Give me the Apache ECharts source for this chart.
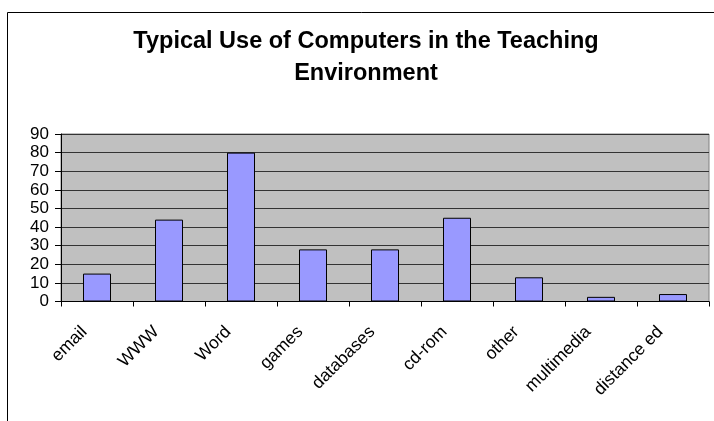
<!DOCTYPE html>
<html>
<head>
<meta charset="utf-8">
<script src="https://cdn.jsdelivr.net/npm/echarts@6/dist/echarts.min.js"></script>
<style>
  html, body { margin: 0; padding: 0; background: #fff; }
  #chart { width: 714px; height: 421px; }
</style>
</head>
<body>
<div id="chart"></div>
<script>
// Survey results: how computers are typically used in teaching
const categories = ['email', 'WWW', 'Word', 'games', 'databases', 'cd-rom', 'other', 'multimedia', 'distance ed'];
const usageValues = [15, 44, 80, 28, 28, 45, 13, 2.5, 4];
const yTicks = { min: 0, max: 90, interval: 10 };
const titleLines = ['Typical Use of Computers in the Teaching', 'Environment'];

const FONT = '"Liberation Sans", Arial, sans-serif';

const chart = echarts.init(document.getElementById('chart'), null, { renderer: 'canvas' });

chart.setOption({
  animation: false,
  backgroundColor: '#ffffff',
  graphic: [
    {
      type: 'rect',
      shape: { x: 7.5, y: 12.5, width: 730, height: 430 },
      style: { fill: 'none', stroke: '#000', lineWidth: 1 },
      silent: true
    },
    {
      type: 'text',
      style: {
        text: titleLines[0], x: 366, y: 41.5,
        align: 'center', verticalAlign: 'middle',
        font: 'bold 23.5px ' + FONT, fill: '#000'
      }
    },
    {
      type: 'text',
      style: {
        text: titleLines[1], x: 366, y: 73.5,
        align: 'center', verticalAlign: 'middle',
        font: 'bold 23.5px ' + FONT, fill: '#000'
      }
    }
  ],
  grid: {
    left: 61, right: 5, top: 134, bottom: 119.5,
    show: true,
    backgroundColor: '#C0C0C0',
    borderColor: '#808080',
    borderWidth: 1
  },
  xAxis: {
    type: 'category',
    data: categories,
    boundaryGap: true,
    axisLine: { lineStyle: { color: '#000', width: 1 } },
    axisTick: { show: true, interval: 0, length: 5, inside: false, lineStyle: { color: '#000' } },
    axisLabel: {
      interval: 0, rotate: 45, margin: 15,
      padding: [0, 18, 0, 0],
      fontSize: 17.5, fontFamily: FONT, color: '#000'
    },
    splitLine: { show: false }
  },
  yAxis: {
    type: 'value',
    min: yTicks.min, max: yTicks.max, interval: yTicks.interval,
    axisLine: { show: true, lineStyle: { color: '#000', width: 1 } },
    axisTick: { show: true, length: 6, inside: false, lineStyle: { color: '#000' } },
    axisLabel: { margin: 12, fontSize: 17, fontFamily: FONT, color: '#000' },
    splitLine: { show: true, lineStyle: { color: '#333', width: 1 } }
  },
  series: [
    {
      type: 'bar',
      data: usageValues,
      barWidth: 28,
      itemStyle: { color: '#9999FF', borderColor: '#000', borderWidth: 1 },
      silent: true
    }
  ]
});
</script>
</body>
</html>
